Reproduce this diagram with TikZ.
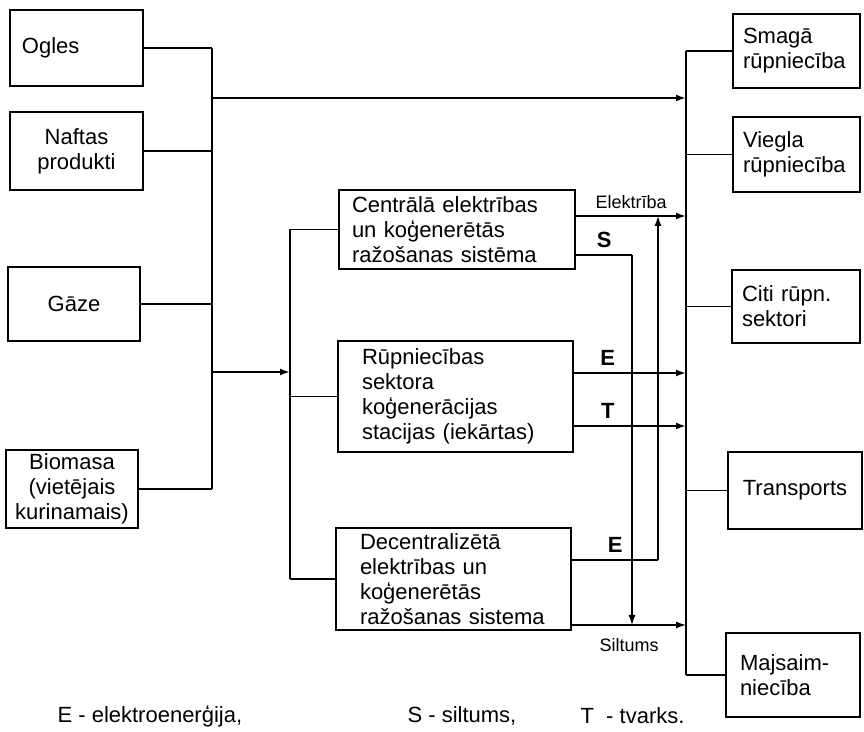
\documentclass[tikz,border=0pt]{standalone}
\usepackage{fontspec}
\setmainfont{Liberation Sans}
\usetikzlibrary{arrows.meta}

\begin{document}
\begin{tikzpicture}[x=0.5pt,y=-0.5pt,>={Latex[length=5pt,width=3.5pt]},line width=0.9pt,
  box/.style={draw,line width=1.2pt,inner ysep=0pt,font=\fontsize{11}{12.5}\selectfont},
  cbox/.style={box,align=center,inner xsep=0pt},
  lbox/.style={box,align=left,inner xsep=#1},
  lbl/.style={font=\bfseries\fontsize{11}{12}\selectfont},
  small/.style={font=\fontsize{9}{10}\selectfont}]
\useasboundingbox (0,0) rectangle (864,732);

% sources
\node[lbox=6pt,text width=54.5pt,minimum height=38pt] (ogles) at (76.5,48) {Ogles};
\node[cbox,minimum width=66.5pt,minimum height=39pt] (naftas) at (76.5,151) {Naftas\\produkti};
\node[cbox,minimum width=66pt,minimum height=37pt] (gaze) at (74,304) {Gāze};
\node[cbox,minimum width=66pt,minimum height=39pt] (biomasa) at (72,489) {Biomasa\\(vietējais\\kurinamais)};

% stations
\node[lbox=6.5pt,text width=105pt,minimum height=39.5pt] (central) at (457,229.5)
  {Centrālā elektrības\\un koģenerētās\\ražošanas sistēma};
\node[lbox=12pt,text width=93.5pt,minimum height=55.5pt] (rupn) at (455.5,396.5)
  {Rūpniecības\\sektora\\koģenerācijas\\stacijas (iekārtas)};
\node[lbox=12pt,text width=93.5pt,minimum height=51pt] (decentr) at (453.5,579)
  {Decentralizētā\\elektrības un\\koģenerētās\\ražošanas sistema};

% consumers
\node[lbox=5pt,text width=53.5pt,minimum height=37pt] (smaga) at (796.5,51) {Smagā\\rūpniecība};
\node[lbox=5pt,text width=53.5pt,minimum height=37.5pt] (viegla) at (796.5,154.5) {Viegla\\rūpniecība};
\node[lbox=5pt,text width=54pt,minimum height=36.5pt] (citi) at (796,306.5) {Citi rūpn.\\sektori};
\node[cbox,minimum width=67pt,minimum height=38.5pt] (transports) at (795,490.5) {Transports};
\node[lbox=7pt,text width=53pt,minimum height=42pt] (majsaim) at (793,675) {Majsaim-\\niecība};

% buses and levels
\coordinate (lbus) at (212,0);
\coordinate (mbus) at (290,0);
\coordinate (rbus) at (686,0);
\coordinate (xs) at (632,0);
\coordinate (xe) at (658,0);
\coordinate (ylong) at (0,98);
\coordinate (ymid) at (0,372);
\coordinate (yel) at (0,216);
\coordinate (ys) at (0,255);
\coordinate (ye1) at (0,373);
\coordinate (yt) at (0,426);
\coordinate (ye2) at (0,560);
\coordinate (ysil) at (0,625);

\draw (ogles.east) -- (lbus |- ogles.east);
\draw (naftas.east) -- (lbus |- naftas.east);
\draw (gaze.east) -- (lbus |- gaze.east);
\draw (biomasa.east) -- (lbus |- biomasa.east);
\draw (lbus |- ogles.east) -- (lbus |- biomasa.east);
\draw[->] (lbus |- ylong) -- (rbus |- ylong);
\draw[->] (lbus |- ymid) -- (mbus |- ymid);

\draw (mbus |- central.west) -- (mbus |- decentr.west);
\draw (mbus |- central.west) -- (central.west);
\draw (mbus |- rupn.west) -- (rupn.west);
\draw (mbus |- decentr.west) -- (decentr.west);

\draw (rbus |- smaga.west) -- (rbus |- majsaim.west);
\draw (rbus |- smaga.west) -- (smaga.west);
\draw (rbus |- viegla.west) -- (viegla.west);
\draw (rbus |- citi.west) -- (citi.west);
\draw (rbus |- transports.west) -- (transports.west);
\draw (rbus |- majsaim.west) -- (majsaim.west);

% outputs
\draw[->] (central.east |- yel) -- (rbus |- yel) node[midway,above,small] {Elektrība};
\draw (central.east |- ys) -- (xs |- ys) node[midway,above,lbl] {S};
\draw[->,line width=0.6pt] (xs |- ys) -- (xs |- ysil);
\draw[->] (rupn.east |- ye1) -- (rbus |- ye1) node[pos=0.3,above,lbl] {E};
\draw[->] (rupn.east |- yt) -- (rbus |- yt) node[pos=0.3,above,lbl] {T};
\draw (decentr.east |- ye2) -- (xe |- ye2) node[midway,above,lbl] {E};
\draw[->,line width=0.6pt] (xe |- ye2) -- (xe |- yel);
\draw[->,line width=0.6pt] (decentr.east |- ysil) -- (rbus |- ysil) node[midway,below=3pt,small] {Siltums};

% legend
\node[anchor=west,font=\fontsize{11}{12}\selectfont] (legE) at (50,716) {E - elektroenerģija,};
\node[anchor=west,font=\fontsize{11}{12}\selectfont] (legS) at (400,716) {S - siltums,};
\node[anchor=west,font=\fontsize{11}{12}\selectfont] (legT) at (573,716) {T \ - tvarks.};
\end{tikzpicture}
\end{document}
